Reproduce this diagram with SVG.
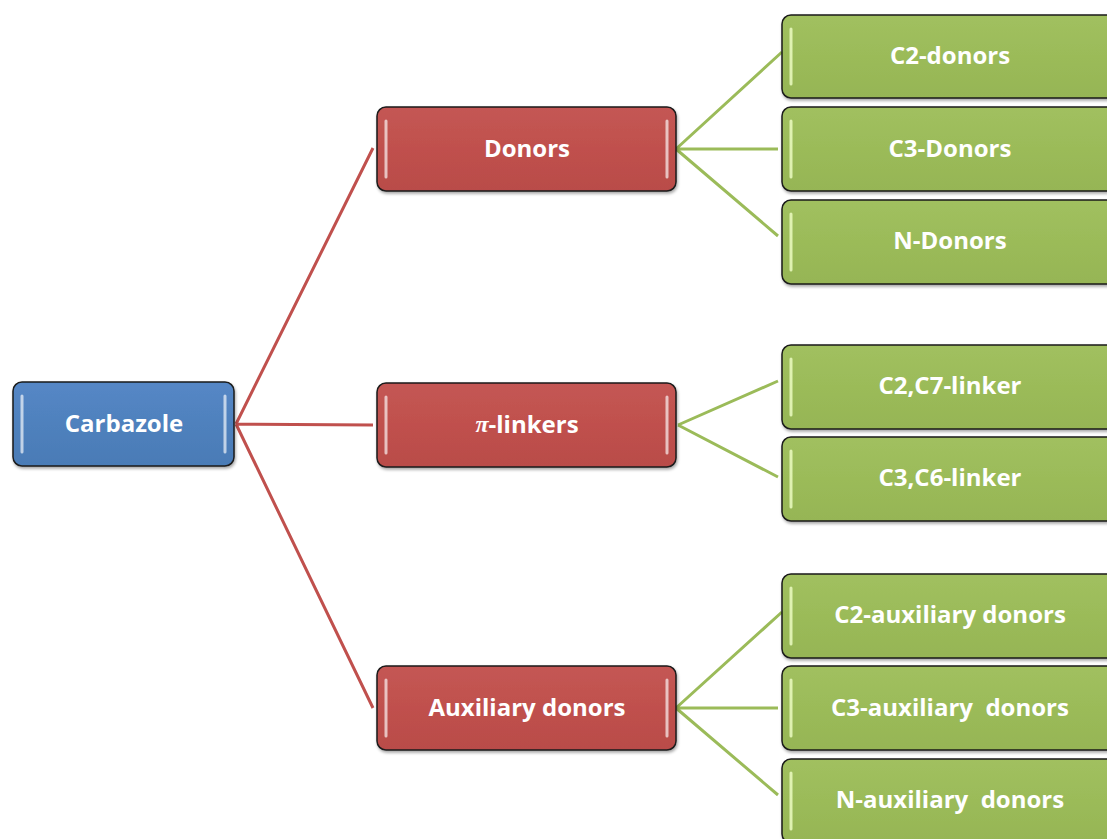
<svg xmlns="http://www.w3.org/2000/svg" width="1107" height="839" viewBox="0 0 1107 839">
<defs>
<linearGradient id="gb" x1="0" y1="0" x2="0" y2="1"><stop offset="0" stop-color="#5587c6"/><stop offset="0.5" stop-color="#4f81bd"/><stop offset="1" stop-color="#4a7bb6"/></linearGradient>
<linearGradient id="gr" x1="0" y1="0" x2="0" y2="1"><stop offset="0" stop-color="#c45754"/><stop offset="0.5" stop-color="#c0504d"/><stop offset="1" stop-color="#b94c49"/></linearGradient>
<linearGradient id="gg" x1="0" y1="0" x2="0" y2="1"><stop offset="0" stop-color="#a1c05f"/><stop offset="0.5" stop-color="#9bbb59"/><stop offset="1" stop-color="#96b555"/></linearGradient>
<filter id="sh" x="-10%" y="-10%" width="120%" height="130%"><feDropShadow dx="1" dy="2" stdDeviation="1.5" flood-color="#000" flood-opacity="0.35"/></filter>
</defs>
<style>
.box{stroke:#1a1a1a;stroke-width:1.5;filter:url(#sh)}
.b{fill:url(#gb)}.r{fill:url(#gr)}.g{fill:url(#gg)}
.hl{stroke:#ffffff;stroke-opacity:0.65;stroke-width:3;stroke-linecap:round}
.hg{stroke:#f0ffc8;stroke-opacity:0.8;stroke-width:3;stroke-linecap:round}
.t{font-family:"Open Sans","Liberation Sans",sans-serif;font-weight:bold;font-size:24px;fill:#ffffff;text-anchor:middle;dominant-baseline:central}
.cr{stroke:#c0504d;stroke-width:3;fill:none}
.cg{stroke:#9bbb59;stroke-width:3;fill:none}
</style>
<g id="connectors">
<path class="cr" d="M236 424 L373 148 M236 424 L373 425 M236 424 L373 708"/>
<path class="cg" d="M676 149 L782 52 M676 149 L778 149 M676 149 L778 236"/>
<path class="cg" d="M678 425 L778 381 M678 425 L778 477"/>
<path class="cg" d="M676 708 L782 612 M676 708 L778 708 M676 708 L778 795"/>
</g>
<g id="n-carbazole"><rect class="box b" x="13" y="382" width="221" height="84" rx="9"/><path class="hl" d="M22 396 V452 M225 396 V452"/><text class="t" x="124" y="422.5">Carbazole</text></g>
<g id="n-donors"><rect class="box r" x="377" y="107" width="299" height="84" rx="9"/><path class="hl" d="M386 121 V177 M667 121 V177"/><text class="t" x="527" y="147.5">Donors</text></g>
<g id="n-pilinkers"><rect class="box r" x="377" y="383" width="299" height="84" rx="9"/><path class="hl" d="M386 397 V453 M667 397 V453"/><text class="t" x="527" y="423.5"><tspan font-family="'Liberation Serif',serif" font-style="italic">π</tspan>-linkers</text></g>
<g id="n-auxdonors"><rect class="box r" x="377" y="666" width="299" height="84" rx="9"/><path class="hl" d="M386 680 V736 M667 680 V736"/><text class="t" x="527" y="706.5">Auxiliary donors</text></g>
<g id="n-c2donors"><rect class="box g" x="782" y="15" width="345" height="83" rx="9"/><path class="hg" d="M791 29 V84"/><text class="t" x="950" y="54.5">C2-donors</text></g>
<g id="n-c3donors"><rect class="box g" x="782" y="107" width="345" height="84" rx="9"/><path class="hg" d="M791 121 V177"/><text class="t" x="950" y="147.5">C3-Donors</text></g>
<g id="n-ndonors"><rect class="box g" x="782" y="200" width="345" height="84" rx="9"/><path class="hg" d="M791 214 V270"/><text class="t" x="950" y="239.5">N-Donors</text></g>
<g id="n-c2c7"><rect class="box g" x="782" y="345" width="345" height="84" rx="9"/><path class="hg" d="M791 359 V415"/><text class="t" x="950" y="384.5">C2,C7-linker</text></g>
<g id="n-c3c6"><rect class="box g" x="782" y="437" width="345" height="84" rx="9"/><path class="hg" d="M791 451 V507"/><text class="t" x="950" y="476.5">C3,C6-linker</text></g>
<g id="n-c2aux"><rect class="box g" x="782" y="574" width="345" height="84" rx="9"/><path class="hg" d="M791 588 V644"/><text class="t" x="950" y="613.5">C2-auxiliary donors</text></g>
<g id="n-c3aux"><rect class="box g" x="782" y="666" width="345" height="84" rx="9"/><path class="hg" d="M791 680 V736"/><text class="t" x="950" y="706.5" xml:space="preserve">C3-auxiliary  donors</text></g>
<g id="n-naux"><rect class="box g" x="782" y="759" width="345" height="84" rx="9"/><path class="hg" d="M791 773 V829"/><text class="t" x="950" y="798.5" xml:space="preserve">N-auxiliary  donors</text></g>
</svg>
